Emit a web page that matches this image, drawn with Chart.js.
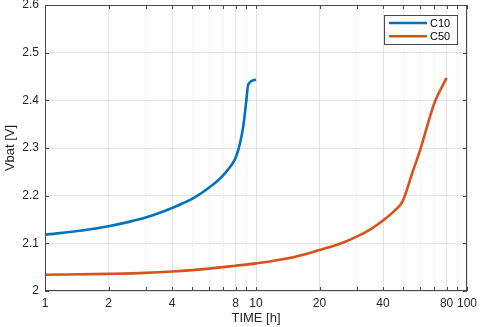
<!DOCTYPE html>
<html>
<head>
<meta charset="utf-8">
<script src="https://cdn.jsdelivr.net/npm/chart.js@4"></script>
<style>
  html, body { margin: 0; padding: 0; background: #fff; }
  #wrap { width: 480px; height: 327px; }
</style>
</head>
<body>
<div id="wrap"><canvas id="grafico" width="480" height="327"></canvas></div>
<script>
// datos
var tiempoC10 = [1, 1.5, 2, 2.5, 3, 3.5, 4, 4.5, 5, 5.5, 6, 6.5, 7, 7.5, 8, 8.4, 8.7, 8.95, 9.2, 10];
var vbatC10 = [2.118, 2.127, 2.136, 2.145, 2.154, 2.164, 2.174, 2.184, 2.194, 2.205, 2.217, 2.229, 2.243, 2.259, 2.279, 2.310, 2.345, 2.390, 2.434, 2.443];
var tiempoC50 = [1, 2, 3, 4, 6, 8, 10, 15, 20, 25, 30, 35, 40, 45, 49.5, 55, 60, 70, 80];
var vbatC50 = [2.034, 2.036, 2.038, 2.041, 2.047, 2.053, 2.058, 2.071, 2.086, 2.099, 2.114, 2.130, 2.148, 2.167, 2.188, 2.247, 2.296, 2.394, 2.447];
var ticksX = [1, 2, 3, 4, 5, 6, 7, 8, 9, 10, 20, 30, 40, 50, 60, 70, 80, 90, 100];
var etiquetasX = [1, 2, 4, 8, 10, 20, 40, 80, 100];
var ticksY = [2, 2.1, 2.2, 2.3, 2.4, 2.5, 2.6];
var series = ["C10", "C50"];
var colores = ["#0072BD", "#D95319"];

var fuente = "'Liberation Sans', Arial, sans-serif";
var grisTexto = "#262626";

function esMayor(v) {
  return etiquetasX.indexOf(v) >= 0;
}

function puntos(xs, ys) {
  var arr = [];
  for (var i = 0; i < xs.length; i++) {
    arr.push({ x: xs[i], y: ys[i] });
  }
  return arr;
}

// marco, ticks hacia adentro y leyenda (estilo matlab)
var marcoPlugin = {
  id: "marco",
  afterDatasetsDraw: function (chart) {
    var c = chart.ctx;
    var a = chart.chartArea;
    var sx = chart.scales.x;
    var sy = chart.scales.y;
    c.save();
    c.strokeStyle = "#4a4a4a";
    c.lineWidth = 1;
    c.beginPath();
    ticksX.forEach(function (v) {
      var px = Math.round(sx.getPixelForValue(v)) + 0.5;
      c.moveTo(px, a.bottom);
      c.lineTo(px, a.bottom - 4);
      c.moveTo(px, a.top);
      c.lineTo(px, a.top + 4);
    });
    ticksY.forEach(function (v) {
      var py = Math.round(sy.getPixelForValue(v)) + 0.5;
      c.moveTo(a.left, py);
      c.lineTo(a.left + 4, py);
      c.moveTo(a.right, py);
      c.lineTo(a.right - 4, py);
    });
    c.stroke();
    c.strokeRect(Math.round(a.left) + 0.5, Math.round(a.top) + 0.5,
      Math.round(a.right - a.left) - 1, Math.round(a.bottom - a.top) - 1);

    // leyenda
    var lx = 384, ly = 15, lw = 73, lh = 29;
    c.fillStyle = "#fff";
    c.fillRect(lx, ly, lw, lh);
    c.strokeRect(lx + 0.5, ly + 0.5, lw, lh);
    c.font = "11px " + fuente;
    c.textBaseline = "middle";
    chart.data.datasets.forEach(function (ds, i) {
      var y = ly + 8 + i * 13.3;
      c.strokeStyle = ds.borderColor;
      c.lineWidth = 2.6;
      c.beginPath();
      c.moveTo(lx + 5, y);
      c.lineTo(lx + 43, y);
      c.stroke();
      c.fillStyle = "#000";
      c.fillText(ds.label, lx + 46, y + 0.5);
    });
    c.restore();
  }
};

var grafico = new Chart(document.getElementById("grafico"), {
  type: "line",
  data: {
    datasets: [
      {
        label: series[0],
        data: puntos(tiempoC10, vbatC10),
        borderColor: colores[0],
        borderWidth: 2.6,
        pointRadius: 0,
        cubicInterpolationMode: "monotone",
        fill: false
      },
      {
        label: series[1],
        data: puntos(tiempoC50, vbatC50),
        borderColor: colores[1],
        borderWidth: 2.6,
        pointRadius: 0,
        cubicInterpolationMode: "monotone",
        fill: false
      }
    ]
  },
  options: {
    responsive: false,
    animation: false,
    layout: { padding: { top: 5, right: 13, bottom: 0, left: 0 } },
    plugins: {
      legend: { display: false },
      tooltip: { enabled: false }
    },
    scales: {
      x: {
        type: "logarithmic",
        min: 1,
        max: 100,
        afterBuildTicks: function (s) {
          s.ticks = ticksX.map(function (v) { return { value: v }; });
        },
        afterFit: function (s) {
          s.height = 36;
          s.paddingLeft = 0;
          s.paddingRight = 0;
        },
        grid: {
          drawTicks: false,
          lineWidth: 1,
          color: function (ctx) {
            if (!ctx.tick) return "#e3e3e3";
            return esMayor(ctx.tick.value) ? "#e3e3e3" : "#e0e0e0";
          }
        },
        border: {
          display: false,
          dash: function (ctx) {
            if (!ctx.tick) return [];
            return esMayor(ctx.tick.value) ? [] : [1, 3];
          }
        },
        ticks: {
          autoSkip: false,
          maxRotation: 0,
          padding: 5,
          color: grisTexto,
          font: { family: fuente, size: 12 },
          callback: function (v) {
            return esMayor(v) ? String(v) : "";
          }
        },
        title: {
          display: true,
          text: "TIME [h]",
          color: grisTexto,
          font: { family: fuente, size: 13 },
          padding: { top: 0, bottom: 1 }
        }
      },
      y: {
        min: 2,
        max: 2.6,
        afterBuildTicks: function (s) {
          s.ticks = ticksY.map(function (v) { return { value: v }; });
        },
        afterFit: function (s) {
          s.width = 45;
          s.paddingTop = 0;
          s.paddingBottom = 0;
        },
        grid: { drawTicks: false, color: "#e3e3e3", lineWidth: 1 },
        border: { display: false },
        ticks: {
          padding: 6,
          color: grisTexto,
          font: { family: fuente, size: 12 },
          callback: function (v) {
            return String(Number(v.toFixed(1)));
          }
        },
        title: {
          display: true,
          text: "Vbat [V]",
          color: grisTexto,
          font: { family: fuente, size: 13 },
          padding: { top: 3, bottom: 0 }
        }
      }
    }
  },
  plugins: [marcoPlugin]
});
</script>
</body>
</html>
